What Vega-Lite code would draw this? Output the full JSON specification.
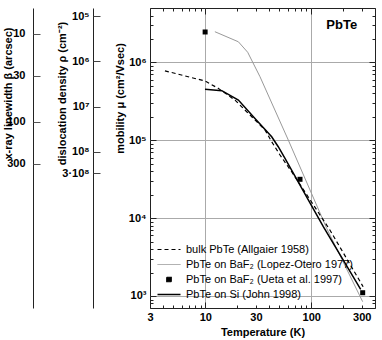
{
  "$schema": "https://vega.github.io/schema/vega-lite/v6.json",
  "width": 225,
  "height": 300,
  "autosize": {"type": "none"},
  "padding": {"left": 150, "top": 8, "right": 7, "bottom": 32},
  "config": {
    "view": {"stroke": "#222", "strokeWidth": 1},
    "font": "Liberation Sans",
    "axis": {
      "labelFont": "Liberation Sans", "labelFontSize": 11, "labelFontWeight": "bold", "labelColor": "#000",
      "titleFont": "Liberation Sans", "titleFontSize": 11, "titleFontWeight": "bold", "titleColor": "#000",
      "tickColor": "#222", "domainColor": "#222", "grid": false
    }
  },
  "datasets": {
    "curves": [
      {"series": "bulk PbTe (Allgaier 1958)", "T": 4.15, "mu": 780000},
      {"series": "bulk PbTe (Allgaier 1958)", "T": 10, "mu": 575000},
      {"series": "bulk PbTe (Allgaier 1958)", "T": 13.2, "mu": 465000},
      {"series": "bulk PbTe (Allgaier 1958)", "T": 19, "mu": 329000},
      {"series": "bulk PbTe (Allgaier 1958)", "T": 25.4, "mu": 222000},
      {"series": "bulk PbTe (Allgaier 1958)", "T": 36.6, "mu": 135500},
      {"series": "bulk PbTe (Allgaier 1958)", "T": 42.3, "mu": 95800},
      {"series": "bulk PbTe (Allgaier 1958)", "T": 50.7, "mu": 64600},
      {"series": "bulk PbTe (Allgaier 1958)", "T": 65.3, "mu": 39400},
      {"series": "bulk PbTe (Allgaier 1958)", "T": 150, "mu": 7030},
      {"series": "bulk PbTe (Allgaier 1958)", "T": 309, "mu": 1315},
      {"series": "PbTe on BaF₂ (Lopez-Otero 1977)", "T": 12.3, "mu": 2480000},
      {"series": "PbTe on BaF₂ (Lopez-Otero 1977)", "T": 20.5, "mu": 1840000},
      {"series": "PbTe on BaF₂ (Lopez-Otero 1977)", "T": 25.1, "mu": 1350000},
      {"series": "PbTe on BaF₂ (Lopez-Otero 1977)", "T": 32.8, "mu": 655000},
      {"series": "PbTe on BaF₂ (Lopez-Otero 1977)", "T": 60.7, "mu": 100700},
      {"series": "PbTe on BaF₂ (Lopez-Otero 1977)", "T": 139.8, "mu": 7400},
      {"series": "PbTe on BaF₂ (Lopez-Otero 1977)", "T": 306, "mu": 843},
      {"series": "PbTe on Si (John 1998)", "T": 9.92, "mu": 451000},
      {"series": "PbTe on Si (John 1998)", "T": 14.3, "mu": 433000},
      {"series": "PbTe on Si (John 1998)", "T": 20.5, "mu": 329000},
      {"series": "PbTe on Si (John 1998)", "T": 29.4, "mu": 191000},
      {"series": "PbTe on Si (John 1998)", "T": 42.3, "mu": 111000},
      {"series": "PbTe on Si (John 1998)", "T": 48.8, "mu": 82600},
      {"series": "PbTe on Si (John 1998)", "T": 56.5, "mu": 58600},
      {"series": "PbTe on Si (John 1998)", "T": 130, "mu": 7750},
      {"series": "PbTe on Si (John 1998)", "T": 293, "mu": 1216}
    ],
    "ueta": [
      {"series": "PbTe on BaF₂ (Ueta et al. 1997)", "T": 9.95, "mu": 2460000},
      {"series": "PbTe on BaF₂ (Ueta et al. 1997)", "T": 78.3, "mu": 31500},
      {"series": "PbTe on BaF₂ (Ueta et al. 1997)", "T": 306, "mu": 1100}
    ],
    "betaTicks": [{"beta": 10}, {"beta": 30}, {"beta": 100}, {"beta": 300}],
    "rhoTicks": [{"rho": 100000}, {"rho": 1000000}, {"rho": 10000000}, {"rho": 100000000}, {"rho": 300000000}],
    "label": [{"text": "PbTe"}]
  },
  "layer": [
    {
      "data": {"name": "curves"},
      "transform": [{"filter": {"field": "series", "equal": "PbTe on BaF₂ (Lopez-Otero 1977)"}}],
      "mark": {"type": "line", "strokeWidth": 1, "interpolate": "linear"},
      "encoding": {
        "x": {"field": "T", "type": "quantitative",
          "scale": {"type": "log", "domain": [3, 400], "nice": false},
          "axis": {"orient": "bottom",
            "values": [3,4,5,6,7,8,9,10,20,30,40,50,60,70,80,90,100,200,300,400],
            "labelExpr": "(datum.value==3||datum.value==10||datum.value==30||datum.value==100||datum.value==300) ? ''+datum.value : ''",
            "labelFlush": false, "labelOverlap": false, "labelPadding": 6,
            "tickSize": -3,
            "grid": true, "gridColor": "#aaa",
            "gridOpacity": {"condition": {"test": "datum.value==10||datum.value==100", "value": 1}, "value": 0},
            "domain": false, "title": "Temperature (K)", "titlePadding": 4}},
        "y": {"field": "mu", "type": "quantitative",
          "scale": {"type": "log", "domain": [700, 5000000], "nice": false},
          "axis": {"orient": "left",
            "values": [800,900,1000,2000,3000,4000,5000,6000,7000,8000,9000,10000,20000,30000,40000,50000,60000,70000,80000,90000,100000,200000,300000,400000,500000,600000,700000,800000,900000,1000000,2000000,3000000,4000000],
            "labelExpr": "datum.value==1000?'10³':datum.value==10000?'10⁴':datum.value==100000?'10⁵':datum.value==1000000?'10⁶':''",
            "labelOverlap": false, "labelPadding": 7,
            "tickSize": -3,
            "grid": true, "gridColor": "#aaa",
            "gridOpacity": {"condition": {"test": "datum.value==1000||datum.value==10000||datum.value==100000||datum.value==1000000", "value": 1}, "value": 0},
            "domain": false, "title": "mobility μ (cm²/Vsec)",
            "titleX": -25, "titleY": 90, "titleAngle": 270, "titleBaseline": "bottom", "titleAlign": "center"}},
        "color": {"field": "series", "type": "nominal",
          "scale": {"domain": ["bulk PbTe (Allgaier 1958)", "PbTe on BaF₂ (Lopez-Otero 1977)", "PbTe on BaF₂ (Ueta et al. 1997)", "PbTe on Si (John 1998)"],
                    "range": ["#000000", "#999999", "#000000", "#000000"]},
          "legend": {"title": null, "orient": "none", "legendX": 13.5, "legendY": 236,
            "labelFont": "Liberation Sans", "labelFontSize": 11, "labelFontWeight": "normal", "labelColor": "#000", "labelLimit": 300,
            "symbolSize": 100, "rowPadding": 3, "labelOffset": 11.5, "padding": 0,
            "encode": {"symbols": {"update": {
              "shape": {"signal": "datum.value === 'PbTe on BaF₂ (Ueta et al. 1997)' ? 'M-0.45,-0.45H0.45V0.45H-0.45Z' : 'M-2.3,0H2.3'"},
              "strokeDash": {"signal": "datum.value === 'bulk PbTe (Allgaier 1958)' ? [4,3] : [1,0]"},
              "fill": {"signal": "datum.value === 'PbTe on BaF₂ (Ueta et al. 1997)' ? '#000000' : 'transparent'"},
              "stroke": {"signal": "datum.value === 'PbTe on BaF₂ (Ueta et al. 1997)' ? 'transparent' : datum.value === 'PbTe on BaF₂ (Lopez-Otero 1977)' ? '#999999' : '#000000'"},
              "strokeWidth": {"signal": "datum.value === 'PbTe on Si (John 1998)' ? 1.5 : datum.value === 'PbTe on BaF₂ (Lopez-Otero 1977)' ? 1 : 1.2"}
            }}}}}
      }
    },
    {
      "data": {"name": "curves"},
      "transform": [{"filter": {"field": "series", "equal": "bulk PbTe (Allgaier 1958)"}}],
      "mark": {"type": "line", "strokeWidth": 1.2, "strokeDash": [4, 3], "interpolate": "linear"},
      "encoding": {
        "x": {"field": "T", "type": "quantitative", "scale": {"type": "log", "domain": [3, 400], "nice": false},
          "axis": {"orient": "bottom", "values": [10, 100], "labels": false, "title": null, "domain": false, "grid": false, "tickSize": -6}},
        "y": {"field": "mu", "type": "quantitative", "scale": {"type": "log", "domain": [700, 5000000], "nice": false},
          "axis": {"orient": "left", "values": [1000, 10000, 100000, 1000000], "labels": false, "title": null, "domain": false, "grid": false, "tickSize": -6}},
        "color": {"field": "series", "type": "nominal"}
      }
    },
    {
      "data": {"name": "curves"},
      "transform": [{"filter": {"field": "series", "equal": "PbTe on Si (John 1998)"}}],
      "mark": {"type": "line", "strokeWidth": 1.5, "interpolate": "linear"},
      "encoding": {
        "x": {"field": "T", "type": "quantitative", "scale": {"type": "log", "domain": [3, 400], "nice": false},
          "axis": {"orient": "top", "values": [10, 100], "labels": false, "title": null, "domain": false, "grid": false, "tickSize": -6}},
        "y": {"field": "mu", "type": "quantitative", "scale": {"type": "log", "domain": [700, 5000000], "nice": false},
          "axis": {"orient": "right", "values": [1000, 10000, 100000, 1000000], "labels": false, "title": null, "domain": false, "grid": false, "tickSize": -6}},
        "color": {"field": "series", "type": "nominal"}
      }
    },
    {
      "data": {"name": "ueta"},
      "mark": {"type": "point", "shape": "square", "filled": true, "size": 25, "opacity": 1},
      "encoding": {
        "x": {"field": "T", "type": "quantitative", "scale": {"type": "log", "domain": [3, 400], "nice": false},
          "axis": {"orient": "top", "labels": false, "title": null, "domain": false, "grid": false,
            "values": [3,4,5,6,7,8,9,10,20,30,40,50,60,70,80,90,100,200,300,400],
            "tickSize": -3}},
        "y": {"field": "mu", "type": "quantitative", "scale": {"type": "log", "domain": [700, 5000000], "nice": false},
          "axis": {"orient": "right", "labels": false, "title": null, "domain": false, "grid": false,
            "values": [800,900,1000,2000,3000,4000,5000,6000,7000,8000,9000,10000,20000,30000,40000,50000,60000,70000,80000,90000,100000,200000,300000,400000,500000,600000,700000,800000,900000,1000000,2000000,3000000,4000000],
            "tickSize": -3}},
        "color": {"field": "series", "type": "nominal"}
      }
    },
    {
      "data": {"name": "label"},
      "mark": {"type": "text", "font": "Liberation Sans", "fontSize": 13, "fontWeight": "bold", "color": "#000"},
      "encoding": {
        "text": {"field": "text", "type": "nominal"},
        "x": {"datum": 194, "type": "quantitative", "scale": {"type": "log", "domain": [3, 400], "nice": false}, "axis": null},
        "y": {"datum": 3030000, "type": "quantitative", "scale": {"type": "log", "domain": [700, 5000000], "nice": false}, "axis": null}
      }
    },
    {
      "data": {"name": "betaTicks"},
      "mark": {"type": "point", "opacity": 0},
      "encoding": {
        "y": {"field": "beta", "type": "quantitative",
          "scale": {"type": "log", "domain": [5.09, 13200], "reverse": true, "nice": false},
          "axis": {"orient": "left", "offset": 117, "values": [10, 30, 100, 300], "format": "d",
            "ticks": false, "labelPadding": 8, "domainColor": "#222", "grid": false,
            "title": "x-ray linewidth β (arcsec)", "titleX": -20, "titleY": 85, "titleAngle": 270, "titleBaseline": "bottom", "titleAlign": "center"}}
      }
    },
    {
      "data": {"name": "betaTicks"},
      "mark": {"type": "point", "opacity": 0},
      "encoding": {
        "y": {"field": "beta", "type": "quantitative",
          "scale": {"type": "log", "domain": [5.09, 13200], "reverse": true, "nice": false},
          "axis": {"orient": "left", "offset": 117, "values": [10, 30, 100, 300], "labels": false, "title": null,
            "domain": false, "tickSize": -7, "tickColor": "#555", "grid": false}}
      }
    },
    {
      "data": {"name": "rhoTicks"},
      "mark": {"type": "point", "opacity": 0},
      "encoding": {
        "y": {"field": "rho", "type": "quantitative",
          "scale": {"type": "log", "domain": [65500, 286000000000], "reverse": true, "nice": false},
          "axis": {"orient": "left", "offset": 57, "values": [100000, 1000000, 10000000, 100000000, 300000000],
            "labelExpr": "datum.value==100000?'10⁵':datum.value==1000000?'10⁶':datum.value==10000000?'10⁷':datum.value==100000000?'10⁸':'3·10⁸'",
            "labelOverlap": false, "ticks": false, "labelPadding": 4, "domainColor": "#222", "grid": false,
            "title": "dislocation density ρ (cm⁻²)", "titleX": -26, "titleY": 85, "titleAngle": 270, "titleBaseline": "bottom", "titleAlign": "center"}}
      }
    },
    {
      "data": {"name": "rhoTicks"},
      "mark": {"type": "point", "opacity": 0},
      "encoding": {
        "y": {"field": "rho", "type": "quantitative",
          "scale": {"type": "log", "domain": [65500, 286000000000], "reverse": true, "nice": false},
          "axis": {"orient": "left", "offset": 57, "values": [100000, 1000000, 10000000, 100000000, 300000000], "labels": false, "title": null,
            "domain": false, "tickSize": -7, "tickColor": "#444", "grid": false}}
      }
    }
  ],
  "resolve": {"scale": {"y": "independent", "x": "independent"}, "axis": {"x": "independent", "y": "independent"}}
}
